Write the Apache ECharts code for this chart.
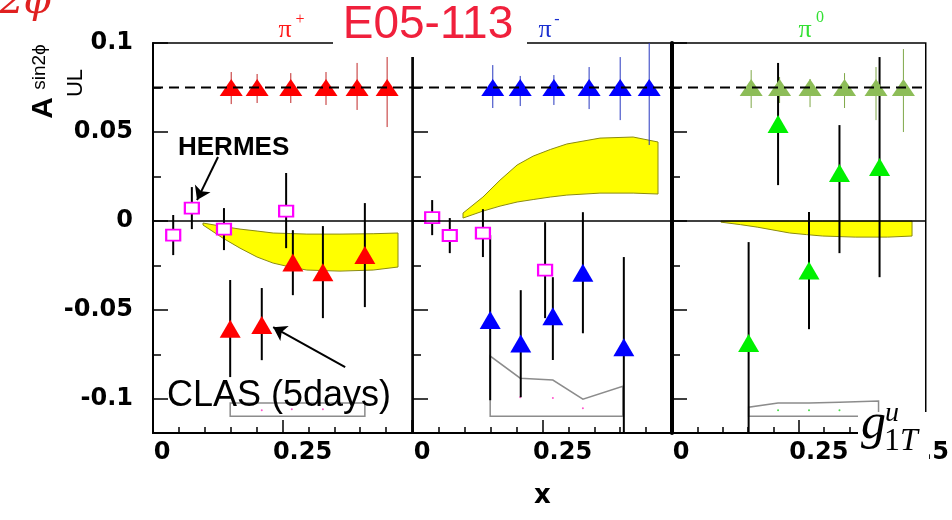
<!DOCTYPE html>
<html>
<head>
<meta charset="utf-8">
<script src="https://cdn.jsdelivr.net/npm/echarts@6/dist/echarts.min.js"></script>
<style>
  html, body { margin: 0; padding: 0; background: #fff; }
  #chart { width: 952px; height: 520px; }
</style>
</head>
<body>
<div id="chart"></div>
<script>
// ---------- data ----------
// rows are [x, A, low end of error bar, high end of error bar]
const refLevel = 0.075;

const pipProj = [
  [0.151, 0.075, 0.0657, 0.0837],
  [0.201, 0.075, 0.0663, 0.0826],
  [0.266, 0.075, 0.0663, 0.0831],
  [0.334, 0.075, 0.0652, 0.0837],
  [0.394, 0.075, 0.0624, 0.0888],
  [0.452, 0.075, 0.0528, 0.0927]
];
const pimProj = [
  [0.154, 0.075, 0.0635, 0.0876],
  [0.207, 0.075, 0.0646, 0.0815],
  [0.272, 0.075, 0.0652, 0.0820],
  [0.340, 0.075, 0.0629, 0.0865],
  [0.400, 0.075, 0.0567, 0.0921],
  [0.456, 0.075, 0.0427, 0.1006]
];
const pi0Proj = [
  [0.156, 0.075, 0.0635, 0.0848],
  [0.212, 0.075, 0.0663, 0.0809],
  [0.272, 0.075, 0.0640, 0.0798],
  [0.340, 0.075, 0.0635, 0.0831],
  [0.402, 0.075, 0.0567, 0.0865],
  [0.456, 0.075, 0.0500, 0.0966]
];

const pipClas = [
  [0.149, -0.0604, -0.0876, -0.0331],
  [0.210, -0.0584, -0.0781, -0.0376],
  [0.270, -0.0233, -0.0416, -0.0051],
  [0.328, -0.0287, -0.0545, -0.0028],
  [0.409, -0.0191, -0.0483, 0.0101]
];
const pimClas = [
  [0.149, -0.0556, -0.1006, -0.0079],
  [0.208, -0.0688, -0.0989, -0.0388],
  [0.270, -0.0535, -0.0780, -0.0315],
  [0.328, -0.0290, -0.0630, 0.0050],
  [0.407, -0.0708, -0.1210, -0.0202]
];
const pi0Clas = [
  [0.151, -0.0685, -0.1250, -0.0118],
  [0.209, 0.0545, 0.0202, 0.0888],
  [0.270, -0.0278, -0.0607, 0.0051],
  [0.330, 0.0270, -0.0180, 0.0539],
  [0.409, 0.0303, -0.0315, 0.0921]
];

const pipHermes = [
  [0.039, -0.0079, -0.0191, 0.0034],
  [0.075, 0.0073, -0.0045, 0.0191],
  [0.137, -0.0045, -0.0163, 0.0073],
  [0.257, 0.0056, -0.0152, 0.0270]
];
const pimHermes = [
  [0.037, 0.0020, -0.0079, 0.0118],
  [0.071, -0.0081, -0.0180, 0.0017],
  [0.135, -0.0067, -0.0202, 0.0067],
  [0.255, -0.0275, -0.0545, -0.0006]
];

// g1T^u model bands
const bandX = [0.0965, 0.135, 0.168, 0.201, 0.232, 0.265, 0.297, 0.361, 0.425, 0.473];
const pipBandHi = [-0.0011, -0.0030, -0.0045, -0.0056, -0.0067, -0.0070, -0.0073, -0.0073, -0.0071, -0.0067];
const pipBandLo = [-0.0022, -0.0096, -0.0152, -0.0202, -0.0236, -0.0258, -0.0275, -0.0281, -0.0275, -0.0258];
const pimBandHi = [0.0045, 0.0135, 0.0230, 0.0315, 0.0365, 0.0402, 0.0433, 0.0466, 0.0472, 0.0444];
const pimBandLo = [0.0017, 0.0056, 0.0084, 0.0107, 0.0121, 0.0135, 0.0146, 0.0157, 0.0157, 0.0152];
const pi0BandHi = [0, 0, 0, 0, 0, 0, 0, 0, 0, 0];
const pi0BandLo = [-0.0006, -0.0020, -0.0034, -0.0051, -0.0067, -0.0076, -0.0084, -0.0090, -0.0090, -0.0084];

// systematic error boxes at the bottom
const boxBottom = -0.1096;
const pipBoxX = [0.149, 0.210, 0.270, 0.328, 0.409];
const pipBoxTop = [-0.1022, -0.1022, -0.1022, -0.1022, -0.1022];
const pimBoxX = [0.149, 0.207, 0.270, 0.328, 0.405];
const pimBoxTop = [-0.0758, -0.0882, -0.0893, -0.1000, -0.0927];
const pi0BoxX = [0.151, 0.209, 0.270, 0.330, 0.407];
const pi0BoxTop = [-0.1045, -0.1022, -0.1022, -0.1017, -0.1011];

const pipSysDots = [[0.210, -0.1062], [0.268, -0.1056], [0.328, -0.1056]];
const pimSysDots = [[0.207, -0.0989], [0.270, -0.0994], [0.328, -0.1051]];
const pi0SysDots = [[0.209, -0.1062], [0.270, -0.1062], [0.330, -0.1062]];

const hermesArrow = [[0.1255, 0.036], [0.085, 0.0118]];
const clasArrow = [[0.371, -0.082], [0.232, -0.0596]];

const yMajor = [-0.1, -0.05, 0, 0.05, 0.1];
const yMinor = [-0.075, -0.025, 0.025, 0.075];
const yMin = -0.119, yMax = 0.1;

// ---------- chart ----------
const chart = echarts.init(document.getElementById('chart'), null, { renderer: 'canvas' });

const numFont = { fontFamily: 'DejaVu Sans', fontWeight: 'bold', fontSize: 24, color: '#000' };

const grids = [
  { left: 153, top: 43, width: 259, height: 390 },
  { left: 413, top: 43, width: 259, height: 390 },
  { left: 672, top: 43, width: 260, height: 390 }
].map(g => Object.assign(g, { show: true, borderColor: '#000', borderWidth: 1.5, backgroundColor: 'transparent' }));

const xAxes = [0, 1, 2].map(gi => ({
  type: 'value', gridIndex: gi, position: 'bottom',
  min: 0, max: 0.5, interval: 0.25,
  name: gi === 1 ? 'x' : '', nameLocation: 'middle', nameGap: 50,
  nameTextStyle: { fontFamily: 'DejaVu Sans', fontWeight: 'bold', fontSize: 26, color: '#000' },
  axisLine: { onZero: false, lineStyle: { color: '#000', width: 2 } },
  axisTick: { inside: true, length: 13, lineStyle: { color: '#000', width: 1.5 } },
  minorTick: { show: true, splitNumber: 5, length: 6, lineStyle: { color: '#000', width: 1.5 } },
  splitLine: { show: false },
  axisLabel: {
    margin: 8,
    formatter: v => v === 0 ? '{a|0}' : v === 0.25 ? '{b|0.25}' : (gi === 2 ? '{c|0.5}' : ''),
    rich: {
      a: Object.assign({ padding: [0, 0, 0, 18] }, numFont),
      b: Object.assign({ padding: [0, 0, 0, 40] }, numFont),
      c: Object.assign({ padding: [0, 0, 0, 4] }, numFont)
    }
  }
}));

const yAxes = [];
[0, 1, 2].forEach(gi => {
  yAxes.push({
    type: 'value', gridIndex: gi, position: 'left', min: yMin, max: yMax,
    axisLine: { onZero: false, lineStyle: { color: '#000', width: gi === 2 ? 4 : (gi === 0 ? 2 : 1.5) } },
    axisTick: { inside: true, length: 15, customValues: yMajor, lineStyle: { color: '#000', width: 1.5 } },
    axisLabel: Object.assign({ show: gi === 0, customValues: yMajor, margin: 20 }, numFont),
    splitLine: { show: false }
  });
  yAxes.push({
    type: 'value', gridIndex: gi, position: 'left', min: yMin, max: yMax,
    axisLine: { show: false, onZero: false },
    axisTick: { inside: true, length: 8, customValues: yMinor, lineStyle: { color: '#000', width: 1.5 } },
    axisLabel: { show: false },
    splitLine: { show: false }
  });
});

function errBars(gi, rows, color, width) {
  return {
    type: 'custom', xAxisIndex: gi, yAxisIndex: gi * 2, clip: true, z: 3, silent: true,
    data: rows,
    renderItem: (params, api) => {
      const a = api.coord([api.value(0), api.value(2)]);
      const b = api.coord([api.value(0), api.value(3)]);
      return { type: 'line', shape: { x1: a[0], y1: a[1], x2: b[0], y2: b[1] },
        style: { stroke: color, lineWidth: width } };
    }
  };
}

function marks(gi, rows, symbol, size, color, border, z) {
  return {
    type: 'scatter', xAxisIndex: gi, yAxisIndex: gi * 2, z: z || 4, silent: true,
    symbol: symbol, symbolSize: size,
    itemStyle: { color: color, borderColor: border || color, borderWidth: border ? 2 : 0, opacity: 1 },
    data: rows.map(r => [r[0], r[1]])
  };
}

function band(gi, hi, lo) {
  return {
    type: 'custom', xAxisIndex: gi, yAxisIndex: gi * 2, z: 1, silent: true,
    data: bandX.map((x, i) => [x, lo[i], hi[i]]),
    renderItem: (params, api) => {
      if (params.dataIndex !== 0) return null;
      const top = bandX.map((x, i) => api.coord([x, hi[i]]));
      const bot = bandX.map((x, i) => api.coord([x, lo[i]])).reverse();
      return { type: 'polygon', shape: { points: top.concat(bot) },
        style: { fill: '#ffff00', stroke: '#8a8a10', lineWidth: 1 } };
    }
  };
}

function sysBox(gi, xs, top) {
  return {
    type: 'custom', xAxisIndex: gi, yAxisIndex: gi * 2, z: 1, silent: true,
    data: xs.map((x, i) => [x, top[i]]),
    renderItem: (params, api) => {
      if (params.dataIndex !== 0) return null;
      const pts = [api.coord([xs[0], boxBottom])]
        .concat(xs.map((x, i) => api.coord([x, top[i]])))
        .concat([api.coord([xs[xs.length - 1], boxBottom])]);
      return { type: 'polygon', shape: { points: pts },
        style: { fill: 'none', stroke: '#8c8c8c', lineWidth: 1.5 } };
    }
  };
}

// horizontal reference lines: dashed at the projection level, solid at zero
function refLines(gi) {
  return {
    type: 'custom', xAxisIndex: gi, yAxisIndex: gi * 2, z: 6, silent: true,
    data: [[0, refLevel, 1], [0, 0, 0]],
    renderItem: (params, api) => {
      const a = api.coord([0, api.value(1)]);
      const b = api.coord([0.5, api.value(1)]);
      const dashed = api.value(2) === 1;
      return { type: 'line', shape: { x1: a[0], y1: a[1], x2: b[0], y2: b[1] },
        style: { stroke: '#000', lineWidth: dashed ? 2 : 1.5, lineDash: dashed ? [10, 6] : null } };
    }
  };
}

function arrow(gi, pts) {
  return {
    type: 'scatter', xAxisIndex: gi, yAxisIndex: gi * 2, z: 7, data: [], silent: true,
    markLine: {
      silent: true, symbol: ['none', 'arrow'], symbolSize: 13, label: { show: false }, animation: false,
      lineStyle: { type: 'solid', width: 2, color: '#000' },
      data: [[{ coord: pts[0] }, { coord: pts[1] }]]
    }
  };
}

const series = [
  band(0, pipBandHi, pipBandLo), band(1, pimBandHi, pimBandLo), band(2, pi0BandHi, pi0BandLo),
  sysBox(0, pipBoxX, pipBoxTop), sysBox(1, pimBoxX, pimBoxTop), sysBox(2, pi0BoxX, pi0BoxTop),
  marks(0, pipSysDots, 'circle', 2, '#ff55cc', null, 2),
  marks(1, pimSysDots, 'circle', 2, '#ff55cc', null, 2),
  marks(2, pi0SysDots, 'circle', 2, '#44dd44', null, 2),
  errBars(0, pipProj, '#c02828', 1), errBars(1, pimProj, '#2838c0', 1), errBars(2, pi0Proj, '#7fa848', 1),
  errBars(0, pipHermes, '#000', 2), errBars(1, pimHermes, '#000', 2),
  errBars(0, pipClas, '#000', 2), errBars(1, pimClas, '#000', 2), errBars(2, pi0Clas, '#000', 2),
  marks(0, pipProj, 'triangle', [23, 17], '#ff0000'),
  marks(1, pimProj, 'triangle', [23, 17], '#0000ff'),
  marks(2, pi0Proj, 'triangle', [23, 17], '#8dbd58'),
  marks(0, pipClas, 'triangle', [21, 18], '#ff0000'),
  marks(1, pimClas, 'triangle', [21, 18], '#0000ff'),
  marks(2, pi0Clas, 'triangle', [21, 18], '#00f000'),
  marks(0, pipHermes, 'rect', [14, 11], '#ffffff', '#ff00ff'),
  marks(1, pimHermes, 'rect', [14, 11], '#ffffff', '#ff00ff'),
  refLines(0), refLines(1), refLines(2),
  arrow(0, hermesArrow), arrow(0, clasArrow)
];

const txt = (x, y, text, style, extra) => Object.assign({
  type: 'text', x: x, y: y, z: 100, silent: true,
  style: Object.assign({ text: text, align: 'center', verticalAlign: 'middle', fill: '#000' }, style)
}, extra || {});

const graphic = [
  { type: 'rect', z: 99, silent: true, shape: { x: 333, y: 0, width: 194, height: 57 }, style: { fill: '#fff' } },
  txt(428, 25, 'E05-113', { fill: '#f0203c', fontSize: 46, fontFamily: 'Liberation Sans' }),
  txt(-1, 3, '2ϕ', { fill: '#e02020', fontSize: 40, fontFamily: 'DejaVu Serif', fontStyle: 'italic', align: 'left' }),
  txt(285, 30, 'π', { fill: '#ff1a1a', fontSize: 26, fontFamily: 'Liberation Serif' }),
  txt(300, 20, '+', { fill: '#ff1a1a', fontSize: 16, fontFamily: 'Liberation Serif' }),
  txt(545, 30, 'π', { fill: '#1a2fd0', fontSize: 26, fontFamily: 'Liberation Serif' }),
  txt(557, 20, '-', { fill: '#1a2fd0', fontSize: 16, fontFamily: 'Liberation Serif' }),
  txt(805, 30, 'π', { fill: '#33e033', fontSize: 26, fontFamily: 'Liberation Serif' }),
  txt(820, 18, '0', { fill: '#33e033', fontSize: 16, fontFamily: 'Liberation Serif' }),
  txt(44, 108, 'A', { fontSize: 30, fontWeight: 'bold', fontFamily: 'Liberation Sans' }, { rotation: Math.PI / 2 }),
  txt(40, 67, 'sin2ϕ', { fontSize: 19, fontFamily: 'Liberation Sans' }, { rotation: Math.PI / 2 }),
  txt(76, 83, 'UL', { fontSize: 22, fontFamily: 'Liberation Sans' }, { rotation: Math.PI / 2 }),
  txt(178, 148, 'HERMES', { fontSize: 26, fontWeight: 'bold', fontFamily: 'Liberation Sans', align: 'left' }),
  txt(167, 396, 'CLAS (5days)', { fontSize: 36, fontFamily: 'Liberation Sans', align: 'left' }),
  { type: 'rect', z: 99, silent: true, shape: { x: 858, y: 412, width: 71, height: 56 }, style: { fill: '#fff' } },
  txt(861, 425, 'g', { fontSize: 50, fontFamily: 'Liberation Serif', fontStyle: 'italic', align: 'left' }),
  txt(884, 442, '1', { fontSize: 32, fontFamily: 'Liberation Serif', align: 'left' }),
  txt(900, 442, 'T', { fontSize: 32, fontFamily: 'Liberation Serif', fontStyle: 'italic', align: 'left' }),
  txt(885, 414, 'u', { fontSize: 28, fontFamily: 'Liberation Serif', fontStyle: 'italic', align: 'left' })
];

chart.setOption({
  animation: false,
  grid: grids,
  xAxis: xAxes,
  yAxis: yAxes,
  series: series,
  graphic: graphic
});
</script>
</body>
</html>
